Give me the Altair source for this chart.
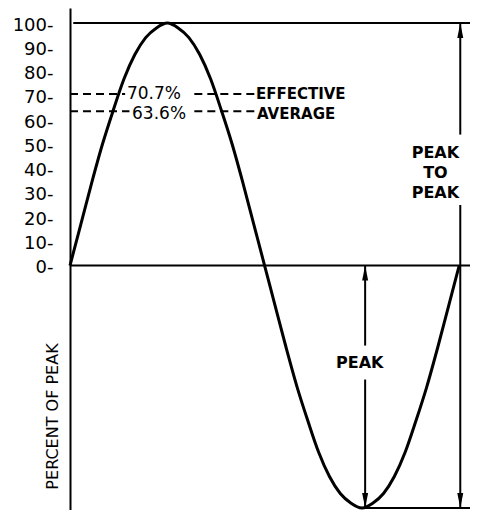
import altair as alt
import pandas as pd

# Sine wave (angle in degrees, percent of peak)
angle_deg = [0, 10, 20, 30, 40, 50, 60, 70, 80, 90, 100, 110, 120, 130, 140, 150, 160, 170, 180,
             190, 200, 210, 220, 230, 240, 250, 260, 270, 280, 290, 300, 310, 320, 330, 340, 350, 360]
percent = [0, 17, 34, 50, 64, 77, 87, 94, 98, 100, 98, 94, 87, 77, 64, 50, 34, 17, 0,
           -17, -34, -50, -64, -77, -87, -94, -98, -100, -98, -94, -87, -77, -64, -50, -34, -17, 0]

y_ticks = [0, 10, 20, 30, 40, 50, 60, 70, 80, 90, 100]

level_values = [70.7, 63.6]
level_texts = ["70.7%", "63.6%"]
level_names = ["EFFECTIVE", "AVERAGE"]

# reference lines (value, start angle, end angle)
ref_y = [0, 100, -100]
ref_x = [0, 3, 270]
ref_x2 = [370, 370, 370]

# dashed segments
dash_x = [0, 115, 0, 115]
dash_x2 = [51, 171, 55, 171]
dash_y = [70.7, 70.7, 63.6, 63.6]

# arrow shafts
shaft_x = [361, 361, 273, 273]
shaft_y = [100, 25, 0, -47]
shaft_y2 = [54, -100, -33, -100]

# arrow heads
up_x = [361, 273]
up_y = [100, 0]
down_x = [361, 273]
down_y = [-100, -100]

FONT = "DejaVu Sans"

xs = alt.Scale(domain=[0, 370], nice=False, zero=False)
ys = alt.Scale(domain=[-100.8, 106.2], nice=False, zero=False)

y_axis = alt.Axis(
    values=y_ticks, ticks=False, grid=False, labelExpr="datum.label + '-'",
    labelPadding=17, labelFontSize=18, labelFont=FONT, labelColor="black",
    labelOffset=2, domainColor="black", domainWidth=2,
    title="PERCENT OF PEAK", titleFont=FONT, titleFontSize=16, titleFontWeight="normal",
    titleColor="black", titleAngle=270, titleX=-18, titleY=408,
    titleAlign="center", titleBaseline="middle")


def X(f):
    return alt.X(f, scale=xs, axis=None)


def Y(f):
    return alt.Y(f, scale=ys, axis=y_axis)


wave_df = pd.DataFrame({"angle": angle_deg, "pct": percent})

wave = alt.Chart(wave_df).mark_line(color="black", strokeWidth=3, interpolate="monotone").encode(
    x=X("angle:Q"), y=Y("pct:Q"))

refs = alt.Chart(pd.DataFrame({"y": ref_y, "x": ref_x, "x2": ref_x2})).mark_rule(
    color="black", strokeWidth=2).encode(x=X("x:Q"), x2="x2:Q", y=Y("y:Q"))

dashes = alt.Chart(pd.DataFrame({"y": dash_y, "x": dash_x, "x2": dash_x2})).mark_rule(
    color="black", strokeWidth=2, strokeDash=[8, 5]).encode(x=X("x:Q"), x2="x2:Q", y=Y("y:Q"))

pct_text1 = alt.Chart(pd.DataFrame({"y": level_values[:1], "t": level_texts[:1], "x": [52.7]})).mark_text(
    align="left", baseline="middle", font=FONT, fontSize=17, color="black").encode(
    x=X("x:Q"), y=Y("y:Q"), text="t:N")

pct_text2 = alt.Chart(pd.DataFrame({"y": level_values[1:], "t": level_texts[1:], "x": [57.4]})).mark_text(
    align="left", baseline="middle", font=FONT, fontSize=17, color="black", dy=3).encode(
    x=X("x:Q"), y=Y("y:Q"), text="t:N")

name_text1 = alt.Chart(pd.DataFrame({"y": level_values[:1], "t": level_names[:1], "x": [172]})).mark_text(
    align="left", baseline="middle", font=FONT, fontSize=15, fontWeight="bold", color="black").encode(
    x=X("x:Q"), y=Y("y:Q"), text="t:N")

name_text2 = alt.Chart(pd.DataFrame({"y": level_values[1:], "t": level_names[1:], "x": [173]})).mark_text(
    align="left", baseline="middle", font=FONT, fontSize=15, fontWeight="bold", color="black", dy=3).encode(
    x=X("x:Q"), y=Y("y:Q"), text="t:N")

shafts = alt.Chart(pd.DataFrame({"x": shaft_x, "y": shaft_y, "y2": shaft_y2})).mark_rule(
    color="black", strokeWidth=2).encode(x=X("x:Q"), y=Y("y:Q"), y2="y2:Q")

heads_up = alt.Chart(pd.DataFrame({"x": up_x, "y": up_y})).mark_point(
    shape="M0,0L-0.6,3L0.6,3Z", filled=True, size=100, color="black", opacity=1).encode(
    x=X("x:Q"), y=Y("y:Q"))

heads_down = alt.Chart(pd.DataFrame({"x": down_x, "y": down_y})).mark_point(
    shape="M0,0L-0.6,-3L0.6,-3Z", filled=True, size=100, color="black", opacity=1).encode(
    x=X("x:Q"), y=Y("y:Q"))

labels = alt.Chart(pd.DataFrame({"x": [338, 268], "y": [46.4, -40.2],
                                 "t": ["PEAK\nTO\nPEAK", "PEAK"]})).mark_text(
    align="center", baseline="middle", font=FONT, fontSize=16, fontWeight="bold",
    color="black", lineBreak="\n", lineHeight=20).encode(
    x=X("x:Q"), y=Y("y:Q"), text="t:N")

chart = alt.layer(refs, dashes, wave, pct_text1, pct_text2, name_text1, name_text2,
                  shafts, heads_up, heads_down, labels).properties(
    width=400, height=502,
    autosize=alt.AutoSizeParams(type="none"),
    padding={"left": 62, "top": 0, "right": 0, "bottom": 0},
    background="white",
).configure_view(stroke=None)

chart.save("out.html", embed_options={"renderer": "svg", "actions": False})
